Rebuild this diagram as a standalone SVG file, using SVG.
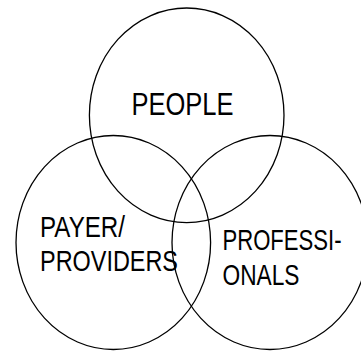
<svg xmlns="http://www.w3.org/2000/svg" width="361" height="351" viewBox="0 0 361 351">
  <style>
    .ring { fill: none; stroke: #000; stroke-width: 1.3; }
    .label { font-family: "Liberation Sans", Arial, sans-serif; font-size: 29px; fill: #000; }
    .big { font-size: 31px; }
  </style>
  <rect width="361" height="351" fill="#fff"/>
  <g id="people">
    <ellipse class="ring" cx="186.7" cy="115.3" rx="97.3" ry="107.3"/>
    <text class="label big" x="131.5" y="115" textLength="102" lengthAdjust="spacingAndGlyphs">PEOPLE</text>
  </g>
  <g id="payer-providers">
    <ellipse class="ring" cx="113.3" cy="242.5" rx="97.3" ry="107"/>
    <text class="label" x="40" y="237" textLength="85" lengthAdjust="spacingAndGlyphs">PAYER/</text>
    <text class="label" x="40" y="271" textLength="138" lengthAdjust="spacingAndGlyphs">PROVIDERS</text>
  </g>
  <g id="professionals">
    <ellipse class="ring" cx="270" cy="242.5" rx="98" ry="107"/>
    <text class="label" x="222.5" y="249.5" textLength="119" lengthAdjust="spacingAndGlyphs">PROFESSI-</text>
    <text class="label" x="222.5" y="285" textLength="77" lengthAdjust="spacingAndGlyphs">ONALS</text>
  </g>
  <g id="connectors"/>
</svg>
